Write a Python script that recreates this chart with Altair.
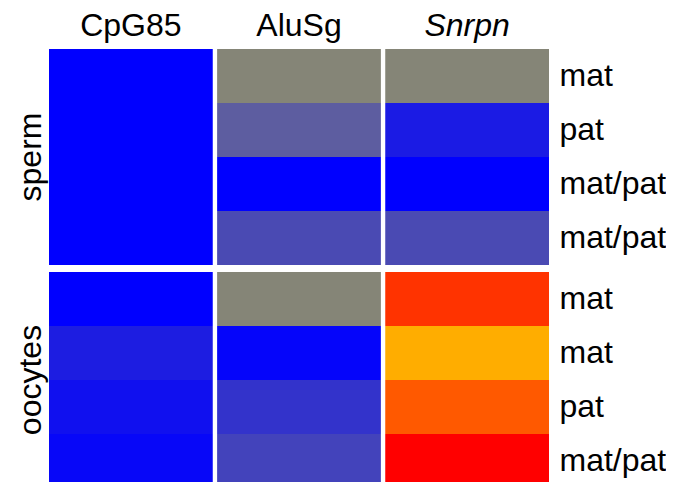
import altair as alt
import pandas as pd

probes = ["CpG85", "AluSg", "Snrpn"]
groups = ["sperm", "oocytes"]
row_labels = {
    "sperm": ["mat", "pat", "mat/pat", "mat/pat"],
    "oocytes": ["mat", "mat", "pat", "mat/pat"],
}
# cell values: 0..1 = blue -> grey ramp, 2..3 = red -> yellow ramp
sperm_values = {
    "CpG85": [0.0, 0.0, 0.0, 0.0],
    "AluSg": [1.0, 0.70, 0.0, 0.56],
    "Snrpn": [1.0, 0.20, 0.0, 0.56],
}
oocyte_values = {
    "CpG85": [0.0, 0.22, 0.12, 0.05],
    "AluSg": [1.0, 0.04, 0.38, 0.50],
    "Snrpn": [2.20, 2.68, 2.35, 2.0],
}
values = {"sperm": sperm_values, "oocytes": oocyte_values}

color_domain = [0, 1, 2, 3]
color_range = ["#0000ff", "#858577", "#ff0000", "#ffff00"]

records = []
for g in groups:
    for p in probes:
        for i, lab in enumerate(row_labels[g]):
            records.append({"group": g, "probe": p, "key": f"{i}|{lab}",
                            "value": values[g][p][i]})
df = pd.DataFrame(records)

FONT = "Liberation Sans"

base = alt.Chart(df).mark_rect().encode(
    x=alt.X("probe:N", sort=probes,
            scale=alt.Scale(paddingInner=0.026, paddingOuter=0),
            axis=alt.Axis(orient="top", title=None, labelAngle=0, domain=False,
                          ticks=False, labelFontSize=32, labelFont=FONT,
                          labelColor="black", labelPadding=7,
                          labelFontStyle={"condition": {"test": "datum.value == 'Snrpn'", "value": "italic"},
                                          "value": "normal"})),
    y=alt.Y("key:N", sort="ascending",
            scale=alt.Scale(paddingInner=0, paddingOuter=0),
            axis=alt.Axis(orient="right", title=None, domain=False, ticks=False,
                          labelExpr="split(datum.value, '|')[1]",
                          labelFontSize=32, labelFont=FONT, labelColor="black",
                          labelPadding=10, labelAlign="left")),
    color=alt.Color("value:Q",
                    scale=alt.Scale(domain=color_domain, range=color_range, interpolate="rgb"),
                    legend=None),
).properties(width=500, height=216)

chart = base.facet(
    row=alt.Row("group:N", sort=groups,
                header=alt.Header(title=None, labelAngle=-90, labelOrient="left",
                                  labelFontSize=32, labelFont=FONT, labelColor="black",
                                  labelPadding=-14)),
    spacing=7,
).resolve_scale(y="independent").configure_view(stroke=None).properties(
    padding={"left": 6, "top": 1, "right": 0, "bottom": 0})

chart.save("out.html", embed_options={"renderer": "svg", "actions": False})
